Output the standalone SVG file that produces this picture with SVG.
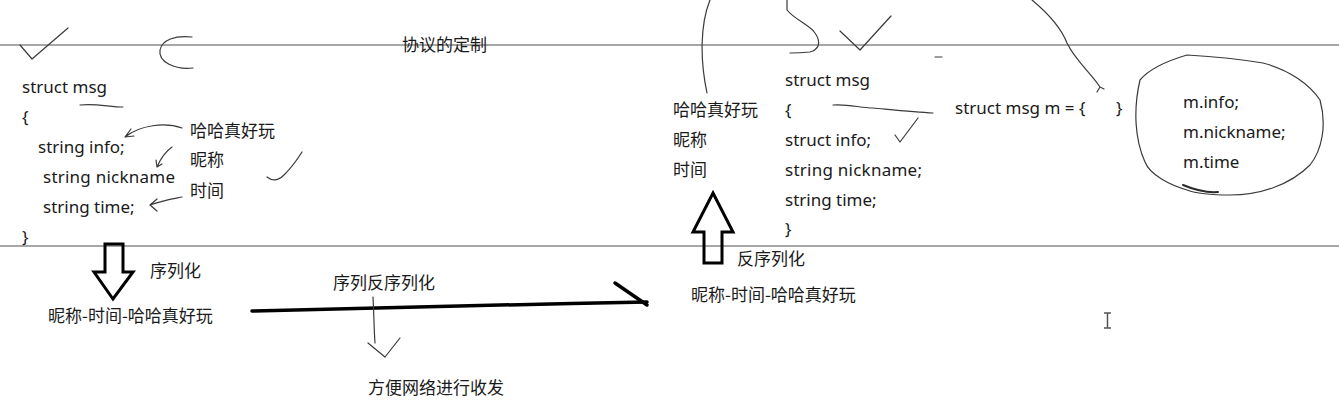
<svg xmlns="http://www.w3.org/2000/svg" width="1339" height="412" viewBox="0 0 1339 412">
<style>
.t{font-family:"Noto Sans","Noto Sans CJK SC",sans-serif;font-size:17px;fill:#1a1a1a}
.c{font-family:"Noto Sans CJK SC",sans-serif;font-size:17px;fill:#1a1a1a}
.rule{stroke:#8a8a8a;stroke-width:1.5;fill:none}
.ink{stroke:#3a3a3a;stroke-width:1.2;fill:none;stroke-linecap:round;stroke-linejoin:round}
.bold{stroke:#000;stroke-width:3;fill:none;stroke-linejoin:miter}
.thick{stroke:#000;stroke-width:3.5;fill:none;stroke-linecap:round}
</style>
<rect width="1339" height="412" fill="#fff"/>
<g id="rules">
<line class="rule" x1="0" y1="45" x2="1339" y2="45"/>
<line class="rule" x1="0" y1="246" x2="1339" y2="246"/>
</g>
<text id="title" class="c" x="402" y="51">协议的定制</text>
<g id="left-struct">
<text class="t" x="22" y="93">struct msg</text>
<text class="t" x="22" y="123">{</text>
<text class="t" x="38" y="153">string info;</text>
<text class="t" x="43" y="183" textLength="132">string nickname</text>
<text class="t" x="43" y="213">string time;</text>
<text class="t" x="22" y="243">}</text>
</g>
<g id="left-labels">
<text class="c" x="190" y="137">哈哈真好玩</text>
<text class="c" x="190" y="166">昵称</text>
<text class="c" x="190" y="197">时间</text>
</g>
<g id="serialize">
<path class="bold" d="M105,244 H123 V272 H133 L113,299 L94,272 H105 Z"/>
<text class="c" x="150" y="277">序列化</text>
<text class="c" x="48" y="322">昵称-时间-哈哈真好玩</text>
</g>
<g id="transfer">
<text class="c" x="333" y="289">序列反序列化</text>
<text class="c" x="368" y="394">方便网络进行收发</text>
</g>
<g id="right-labels">
<text class="c" x="673" y="116">哈哈真好玩</text>
<text class="c" x="673" y="146">昵称</text>
<text class="c" x="673" y="176">时间</text>
</g>
<g id="right-struct">
<text class="t" x="785" y="86">struct msg</text>
<text class="t" x="785" y="116">{</text>
<text class="t" x="785" y="146">struct info;</text>
<text class="t" x="785" y="176" textLength="137">string nickname;</text>
<text class="t" x="785" y="206">string time;</text>
<text class="t" x="785" y="235">}</text>
</g>
<g id="instance">
<text class="t" x="955" y="114">struct msg m = {</text>
<text class="t" x="1116" y="114">}</text>
</g>
<g id="members">
<path class="ink" d="M1187,55 C1220,57 1245,60 1263,63 C1290,70 1310,85 1320,100 C1327,125 1322,150 1310,165 C1290,185 1260,195 1230,195 C1210,195 1195,193 1187,190 C1170,185 1150,175 1145,162 C1135,140 1133,110 1140,80 C1150,68 1170,60 1187,55 Z"/>
<path d="M1183,185 C1195,190 1205,193 1218,192" stroke="#2a2a2a" stroke-width="2" fill="none" stroke-linecap="round"/>
<text class="t" x="1183" y="108">m.info;</text>
<text class="t" x="1183" y="138">m.nickname;</text>
<text class="t" x="1183" y="168">m.time</text>
</g>
<g id="deserialize">
<path class="bold" d="M713,193 L733,232 H722 V263 H704 V232 H693 Z"/>
<text class="c" x="737" y="265">反序列化</text>
<text class="c" x="691" y="301">昵称-时间-哈哈真好玩</text>
</g>
<g id="connectors">
<path class="thick" d="M252,311 C400,308 520,304 647,302"/>
<path class="thick" d="M615,283 L647,305"/>
<path class="ink" d="M373,297 C374,315 374,330 375,343"/>
<path class="ink" d="M368,343 L385,357 L400,338"/>
<path class="ink" d="M182,128 C165,122 140,125 125,137 M125,137 L131,129 M125,137 L134,136"/>
<path class="ink" d="M172,147 C165,152 160,160 157,167 M157,167 L156,160 M157,167 L162,164"/>
<path class="ink" d="M182,197 C172,199 160,201 150,205 M150,205 L157,199 M150,205 L157,211"/>
<path class="ink" d="M710,0 C700,25 700,60 707,93"/>
<path class="ink" d="M1032,0 C1050,15 1062,30 1067,43 C1075,60 1090,72 1100,87 M1100,87 L1097,92 M1100,87 L1104,89"/>
</g>
<g id="marks">
<path class="ink" d="M20,45 L32,59 L68,28"/>
<path class="ink" d="M192,37 C175,35 162,40 160,50 C158,62 175,70 193,68"/>
<path class="ink" d="M80,105 C95,103 110,107 123,107"/>
<path class="ink" d="M267,177 C272,181 278,181 284,175 C292,167 297,160 302,152"/>
<path class="ink" d="M787,0 L787,10 C795,20 810,25 815,33 C822,43 818,50 810,52 C800,53 795,53 790,53"/>
<path class="ink" d="M840,31 L860,50 L891,16"/>
<path class="ink" d="M935,57 L942,57"/>
<path class="ink" d="M833,105 C850,104 860,108 873,108 C895,110 915,112 933,113"/>
<path class="ink" d="M895,135 L900,142 L918,118"/>
<path d="M1104,313 H1111 M1107.5,313 V328 M1104,328 H1111" stroke="#555" stroke-width="1.5" fill="none"/>
</g>
</svg>
